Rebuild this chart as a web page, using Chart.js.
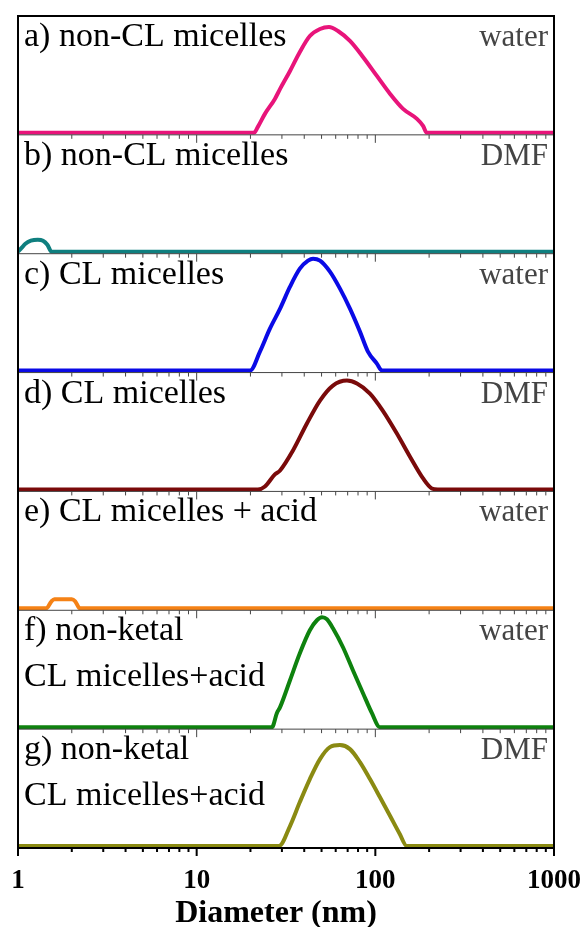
<!DOCTYPE html>
<html>
<head>
<meta charset="utf-8">
<title>DLS size distributions</title>
<script src="https://cdn.jsdelivr.net/npm/chart.js@4.4.1/dist/chart.umd.min.js"></script>
<style>
html,body{margin:0;padding:0;background:#fff;}
#wrap{position:relative;width:584px;height:927px;}
</style>
</head>
<body>
<div id="wrap"><canvas id="dls"></canvas></div>
<script>
// Panel texts
const panelNames = ['a) non-CL micelles', 'b) non-CL micelles', 'c) CL micelles', 'd) CL micelles',
    'e) CL micelles + acid', ['f) non-ketal', 'CL micelles+acid'], ['g) non-ketal', 'CL micelles+acid']];
const solvents = ['water', 'DMF', 'water', 'DMF', 'water', 'water', 'DMF'];
const xTitle = 'Diameter (nm)';

// Diameter (nm) / intensity (a.u.)
const diamA = [1, 20.9, 22, 24.1, 27.4, 29.3, 33.3, 37.8, 43, 49, 55, 61.8, 72.1, 85.3, 102, 121, 143, 171, 185, 194, 1000];
const intA  = [0, 0, 6, 19, 34, 44, 62, 81, 97, 104, 106, 102, 92, 76, 57, 39, 24, 14, 7, 0, 0];
const diamB = [1, 1.05, 1.1, 1.18, 1.29, 1.38, 1.46, 1.54, 1000];
const intB  = [0, 4, 8, 11, 12, 11, 7, 0, 0];
const diamC = [1, 19.9, 22.6, 25.7, 29.3, 33.3, 37.8, 42, 44.8, 49, 55.7, 63.4, 72.1, 82, 90.9, 102, 109, 1000];
const intC  = [0, 0, 19, 42, 62, 84, 102, 110, 112, 110, 99, 82, 62, 39, 19, 7, 0, 0];
const diamD = [1, 22, 24.1, 27.4, 29.3, 34.6, 41.4, 49, 57.9, 69.4, 78.9, 93.3, 110, 132, 156, 185, 207, 224, 1000];
const intD  = [0, 0, 3, 15, 19, 39, 66, 89, 104, 109, 106, 96, 79, 56, 33, 11, 1, 0, 0];
const diamE = [1, 1.44, 1.54, 1.6, 1.8, 2.0, 2.09, 2.22, 1000];
const intE  = [0, 0, 7, 9, 9, 9, 7, 0, 0];
const diamF = [1, 26.4, 28.1, 29.3, 33.3, 37.8, 43, 47.1, 50.3, 53.6, 57.9, 65.9, 74.9, 85.3, 95.7, 106, 1000];
const intF  = [0, 0, 14, 20, 47, 74, 97, 107, 110, 108, 99, 80, 57, 34, 14, 0, 0];
const diamG = [1, 28.9, 33.3, 37.8, 43, 49, 55.7, 63.4, 72.1, 82, 93.3, 106, 121, 137, 150, 1000];
const intG  = [0, 0, 20, 44, 67, 87, 99, 101, 97, 84, 67, 49, 30, 12, 0, 0];

const xTicks = [1, 2, 3, 4, 5, 6, 7, 8, 9, 10, 20, 30, 40, 50, 60, 70, 80, 90, 100,
    200, 300, 400, 500, 600, 700, 800, 900, 1000];
const xMajor = [1, 10, 100, 1000];

const series = [[diamA, intA], [diamB, intB], [diamC, intC], [diamD, intD], [diamE, intE], [diamF, intF], [diamG, intG]];
const colors = ['#e8147a', '#0f7f7f', '#0a0ae6', '#7a0a0a', '#f58216', '#0e820e', '#8a8a12'];
const SERIF = '"Liberation Serif", "Times New Roman", serif';
const ids = series.map((s, i) => 'y' + i);

const datasets = series.map(([d, v], i) => ({
    data: d.map((x, k) => ({x, y: v[k]})),
    yAxisID: ids[i],
    borderColor: colors[i], borderWidth: 4,
    pointRadius: 0, fill: false, cubicInterpolationMode: 'monotone'
}));

const scales = {
    x: { type: 'logarithmic', min: 1, max: 1000, display: false }
};
ids.forEach((id, i) => {
    scales[id] = { type: 'linear', display: false, position: 'left', stack: 'panels',
        stackWeight: 1, weight: ids.length - i, min: -2, max: 117 };
});

// frame, panel separators, tick marks + labels, panel texts, axis title
const panelDecor = {
    id: 'panelDecor',
    afterDatasetsDraw(chart) {
        const {ctx, chartArea: ca, scales: sc} = chart;
        const x = sc.x;
        ctx.save();
        ids.forEach((id, i) => {
            const y = sc[id];
            ctx.strokeStyle = i === ids.length - 1 ? '#000' : '#444';
            ctx.lineWidth = i === ids.length - 1 ? 2 : 1;
            ctx.beginPath();
            ctx.moveTo(ca.left, y.bottom); ctx.lineTo(ca.right, y.bottom);
            xTicks.forEach(v => {
                const px = x.getPixelForValue(v);
                const len = xMajor.includes(v) ? 8 : 4;
                ctx.moveTo(px, y.bottom); ctx.lineTo(px, y.bottom + len);
            });
            ctx.stroke();
            ctx.textBaseline = 'alphabetic';
            ctx.font = '34px ' + SERIF;
            ctx.fillStyle = '#000'; ctx.textAlign = 'left';
            const lines = Array.isArray(panelNames[i]) ? panelNames[i] : [panelNames[i]];
            lines.forEach((t, k) => ctx.fillText(t, ca.left + 6, y.top + 30 + k * 46));
            ctx.font = '31px ' + SERIF;
            ctx.fillStyle = '#444'; ctx.textAlign = 'right';
            ctx.fillText(solvents[i], ca.right - 6, y.top + 30);
        });
        // bottom tick labels + title
        ctx.fillStyle = '#000'; ctx.textAlign = 'center';
        ctx.font = 'bold 27px ' + SERIF;
        xMajor.forEach(v => ctx.fillText(String(v), x.getPixelForValue(v), ca.bottom + 40));
        ctx.font = 'bold 32px ' + SERIF;
        ctx.fillText(xTitle, (ca.left + ca.right) / 2 - 10, ca.bottom + 74);
        ctx.strokeStyle = '#000'; ctx.lineWidth = 2;
        ctx.strokeRect(ca.left, ca.top, ca.right - ca.left, ca.bottom - ca.top);
        ctx.restore();
    }
};

new Chart(document.getElementById('dls'), {
    type: 'line',
    data: { datasets },
    options: {
        responsive: true, maintainAspectRatio: false, animation: false,
        layout: { padding: { top: 16, left: 18, right: 30, bottom: 79 } },
        plugins: { legend: { display: false }, tooltip: { enabled: false } },
        scales
    },
    plugins: [panelDecor]
});
</script>
</body>
</html>
